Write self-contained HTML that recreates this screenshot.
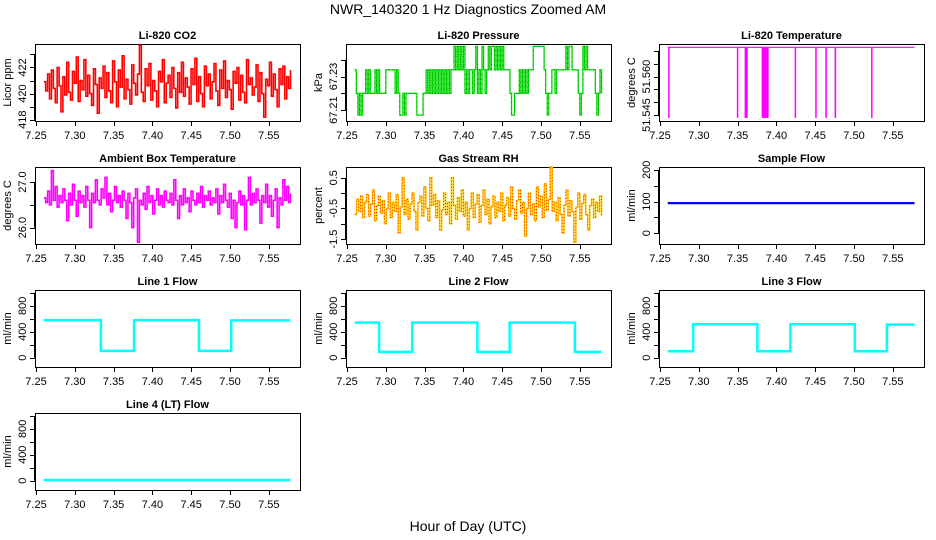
<!DOCTYPE html>
<html><head><meta charset="utf-8"><style>
html,body{margin:0;padding:0;background:#fff;}
svg{display:block;font-family:"Liberation Sans",sans-serif;}
</style></head><body>
<svg id="chart" width="936" height="540" viewBox="0 0 936 540">
<text x="468" y="14" text-anchor="middle" font-size="14">NWR_140320  1 Hz Diagnostics Zoomed AM</text>
<text x="468" y="531" text-anchor="middle" font-size="14">Hour of Day (UTC)</text>
</svg>
<script>
const xTicks=[7.25,7.30,7.35,7.40,7.45,7.50,7.55];
const xTickLabels=["7.25","7.30","7.35","7.40","7.45","7.50","7.55"];
const tStart=7.26, tEnd=7.578;
const co2=[420.9,420.2,421.5,419.6,421.8,420.4,419.3,422.0,420.6,418.6,421.3,419.9,422.4,420.1,419.5,421.7,420.8,422.8,419.4,421.0,420.3,422.6,419.8,421.4,420.0,419.1,421.9,420.7,418.5,421.2,420.4,422.1,419.7,421.6,420.2,419.3,422.5,420.9,419.0,421.8,420.5,422.9,419.6,421.1,420.3,419.2,422.2,420.8,419.9,421.5,423.7,420.1,419.4,421.9,420.6,422.3,419.5,421.0,420.2,419.0,421.7,420.9,422.6,419.3,420.8,421.4,419.7,422.0,420.4,418.9,421.6,420.1,422.4,419.8,421.2,420.5,419.2,421.9,420.7,422.7,419.4,421.3,420.0,419.0,422.1,420.6,421.5,419.6,420.9,422.3,420.2,419.1,421.8,420.4,422.5,419.7,421.0,420.3,418.8,421.7,420.8,422.0,419.5,421.4,420.1,419.3,422.6,420.7,421.2,419.9,420.5,422.2,419.4,421.6,420.0,418.2,421.1,420.6,422.4,419.8,421.5,420.3,419.0,421.9,420.7,422.1,419.6,421.3,420.4,421.8];
const pressure=[67.234,67.220,67.207,67.220,67.207,67.220,67.220,67.234,67.220,67.234,
67.220,67.220,67.220,67.234,67.220,67.234,67.220,67.220,67.220,67.220,
67.234,67.234,67.234,67.234,67.234,67.234,67.220,67.234,67.220,67.207,
67.207,67.220,67.207,67.220,67.220,67.220,67.220,67.220,67.220,67.220,
67.207,67.207,67.207,67.207,67.220,67.220,67.234,67.220,67.234,67.220,
67.234,67.220,67.234,67.220,67.234,67.220,67.234,67.220,67.234,67.220,
67.234,67.220,67.234,67.234,67.248,67.234,67.248,67.234,67.248,67.234,
67.248,67.220,67.234,67.220,67.234,67.234,67.220,67.234,67.248,67.220,
67.234,67.220,67.248,67.234,67.220,67.234,67.248,67.234,67.248,67.248,
67.234,67.248,67.234,67.248,67.234,67.248,67.234,67.234,67.234,67.234,
67.220,67.207,67.207,67.220,67.220,67.220,67.234,67.220,67.234,67.220,
67.234,67.220,67.234,67.234,67.234,67.248,67.248,67.248,67.248,67.248,
67.248,67.248,67.234,67.220,67.207,67.220,67.220,67.234,67.234,67.220,
67.234,67.234,67.234,67.234,67.234,67.234,67.248,67.234,67.248,67.248,
67.234,67.234,67.234,67.234,67.220,67.207,67.220,67.248,67.234,67.248,
67.234,67.234,67.234,67.234,67.234,67.220,67.207,67.220,67.234,67.220];
const tempBase=51.5714;
const tempSpikeStart=[7.2605,7.349,7.359,7.381,7.4235,7.450,7.463,7.475,7.522];
const tempSpikeEnd=[7.262,7.3505,7.363,7.390,7.425,7.4515,7.465,7.477,7.5235];
const tempSpikeMin=[51.5439,51.5439,51.5439,51.5439,51.5439,51.5439,51.5439,51.5439,51.5439];
const ambient=[26.65,26.55,26.8,26.5,27.25,26.6,26.9,26.45,26.7,26.55,26.85,26.6,26.15,26.75,26.5,26.95,26.6,26.25,26.8,26.55,26.7,26.45,26.9,26.6,26.0,26.75,26.55,27.05,26.6,26.5,26.85,26.65,27.1,26.5,26.75,26.35,26.6,26.9,26.55,26.7,26.45,26.8,26.6,26.2,26.75,26.55,26.0,26.65,26.85,25.68,26.6,26.5,26.75,26.4,26.9,26.55,26.7,26.3,26.6,26.85,26.5,26.7,26.45,26.8,26.6,26.55,26.75,26.5,27.05,26.6,26.2,26.7,26.5,26.85,26.55,26.65,26.35,26.8,26.6,26.5,26.75,26.55,26.9,26.45,26.7,26.6,26.8,26.5,26.65,26.55,26.85,26.3,26.7,26.55,26.95,26.6,26.45,26.75,26.2,26.6,26.0,26.55,26.8,26.5,26.7,25.95,26.6,27.1,26.5,26.75,26.55,26.85,26.6,26.1,26.7,26.55,26.95,26.45,26.7,26.25,26.6,26.85,26.0,26.65,26.5,27.05,26.6,26.9,26.55,26.75];
const rh=[-0.7,-0.2,-0.6,-0.1,-0.8,-0.3,-0.05,-0.75,-0.35,0.1,-0.9,-0.4,-0.1,-0.65,-0.25,-1.0,-0.5,0.0,-0.8,-0.3,-0.6,-0.05,-1.3,-0.45,0.5,-0.7,-0.2,-0.85,-0.35,0.0,-0.6,-1.2,-0.3,-0.1,-0.75,0.2,-0.5,-0.9,0.5,-0.4,-0.05,-0.8,-0.25,-1.2,-0.55,0.0,-0.7,-0.3,-1.0,0.5,-0.4,-0.85,-0.15,-0.6,0.1,-0.75,-0.3,-1.2,-0.5,0.0,-0.8,-0.35,-0.05,-0.95,-0.4,0.1,-0.7,-0.2,-1.0,-0.45,-0.1,-0.8,-0.3,-0.6,0.0,-0.9,-0.4,-0.15,-0.75,0.2,-0.5,-0.85,-0.25,0.1,-0.65,-0.3,-1.4,-0.5,0.0,-0.7,-0.35,-0.9,0.2,-0.45,-0.1,-0.8,0.3,-0.55,-0.2,0.85,-0.6,-0.3,-0.9,-0.15,-0.7,-1.3,-0.4,0.1,-0.75,-0.25,-0.6,-1.6,-0.45,0.0,-0.85,-0.35,-0.05,-0.7,-1.2,-0.4,-0.2,-0.8,-0.3,-0.6,-0.1,-0.75];
const sampleFlowLevel=[95,95];
const line1Times=[7.26,7.3336,7.3764,7.46,7.5016,7.578];
const line1Levels=[580,105,580,105,575];
const line2Times=[7.26,7.2914,7.334,7.418,7.4596,7.5437,7.578];
const line2Levels=[540,90,540,90,540,90];
const line3Times=[7.26,7.2927,7.3755,7.418,7.501,7.5424,7.578];
const line3Levels=[100,515,100,515,100,510];
const line4Level=[10,10];

const NS="http://www.w3.org/2000/svg";
const svg=document.getElementById('chart');
const colL=[35,346,659], rowT=[44,167,290,413], W=265, H=77;
const XMIN=7.2487, XMAX=7.5902;
function mk(tag,attrs,parent){const e=document.createElementNS(NS,tag);for(const k in attrs)e.setAttribute(k,attrs[k]);(parent||svg).appendChild(e);return e;}
function panel(c,r,title,ylab,dom,ticks,labels,name){
  const L=colL[c],T=rowT[r];
  const g=mk('g',{});
  
  
  const sx=t=>L+(t-XMIN)/(XMAX-XMIN)*W;
  const sy=v=>T+H-(v-dom[0])/(dom[1]-dom[0])*H;
  const tt=mk('text',{x:L+W/2,y:T-5,'text-anchor':'middle','font-size':11,'font-weight':'bold'},g);tt.textContent=title;
  
  
  const ax=mk('g',{stroke:'#000','stroke-width':1},g);
  
  
  mk('line',{x1:sx(xTicks[0]),x2:sx(xTicks[xTicks.length-1]),y1:T+H+0.5,y2:T+H+0.5},ax);
  xTicks.forEach((t,i)=>{mk('line',{x1:Math.round(sx(t))+0.5,x2:Math.round(sx(t))+0.5,y1:T+H,y2:T+H+5},ax);
    const l=mk('text',{x:sx(t),y:T+H+18,'text-anchor':'middle','font-size':11,stroke:'none'},ax);l.textContent=xTickLabels[i];});
  const ay=mk('g',{stroke:'#000','stroke-width':1},g);
  
  
  mk('line',{x1:L-0.5,x2:L-0.5,y1:sy(ticks[0]),y2:sy(ticks[ticks.length-1])},ay);
  ticks.forEach((v,i)=>{const y=Math.round(sy(v))+0.5;mk('line',{x1:L-5,x2:L,y1:y,y2:y},ay);
    if(labels[i]){const l=mk('text',{x:L-9,y:sy(v),'text-anchor':'middle','font-size':11,stroke:'none',transform:`rotate(-90 ${L-9} ${sy(v)})`},ay);l.textContent=labels[i];}});
  const yl=mk('text',{x:L-24,y:T+H/2,'text-anchor':'middle','font-size':11,transform:`rotate(-90 ${L-24} ${T+H/2})`},g);yl.textContent=ylab;
  
  
  const box=mk('rect',{x:L+0.5,y:T+0.5,width:W,height:H,fill:'none',stroke:'#000'},g);
  
  
  return {g,sx,sy};
}
function idxT(i,n){return tStart+(tEnd-tStart)*i/(n-1);}
function seriesPath(p,arr){return arr.map((v,i)=>(i?'L':'M')+p.sx(idxT(i,arr.length)).toFixed(2)+' '+p.sy(v).toFixed(2)).join(' ');}
function denseStep(p,arr){let d='';arr.forEach((v,i)=>{const x=p.sx(idxT(i,arr.length)),x2=p.sx(idxT(Math.min(i+1,arr.length-1),arr.length));d+=(i?'L':'M')+x.toFixed(2)+' '+p.sy(v).toFixed(2)+' L'+x2.toFixed(2)+' '+p.sy(v).toFixed(2)+' ';});return d;}
function stepPath(p,times,levels){let d='';levels.forEach((v,i)=>{d+=(i?'L':'M')+p.sx(times[i]).toFixed(2)+' '+p.sy(v).toFixed(2)+' L'+p.sx(times[i+1]).toFixed(2)+' '+p.sy(v).toFixed(2)+' ';});return d;}

// CO2
let p=panel(0,0,'Li-820 CO2','Licor ppm',[417.9,423.8],[418,419,420,421,422,423],['418','','420','','422',''],'co2');
let e=mk('path',{d:denseStep(p,co2),fill:'none',stroke:'#ff0000','stroke-width':1.6},p.g);


// Pressure
p=panel(1,0,'Li-820 Pressure','kPa',[67.2035,67.2494],[67.21,67.22,67.23,67.24],['67.21','','67.23',''],'pressure');
{const d=denseStep(p,pressure);
e=mk('path',{d:d,fill:'none',stroke:'#00dd00','stroke-width':1.3},p.g);


e=mk('path',{d:d,fill:'none',stroke:'#000','stroke-width':0.7,'stroke-dasharray':'1 4',opacity:0.5},p.g);

}
// Temperature
p=panel(2,0,'Li-820 Temperature','degrees C',[51.5427,51.5727],[51.545,51.55,51.555,51.56,51.565,51.57],['51.545','','','51.560','',''],'temperature');
{let d='M'+p.sx(tStart)+' '+p.sy(tempBase)+' L'+p.sx(tEnd)+' '+p.sy(tempBase);
e=mk('path',{d:d,fill:'none',stroke:'#ff00ff','stroke-width':1.2},p.g);


tempSpikeStart.forEach((t,i)=>{const x=p.sx(t),w=Math.max(1.5,p.sx(tempSpikeEnd[i])-x);
 const r=mk('rect',{x:x,y:p.sy(tempBase),width:w,height:p.sy(tempSpikeMin[i])-p.sy(tempBase),fill:'#ff00ff'},p.g);
 
 });}
// Ambient
p=panel(0,1,'Ambient Box Temperature','degrees C',[25.64,27.33],[26.0,26.5,27.0],['26.0','','27.0'],'ambient');
e=mk('path',{d:denseStep(p,ambient),fill:'none',stroke:'#ff00ff','stroke-width':1.6},p.g);


// RH
p=panel(1,1,'Gas Stream RH','percent',[-1.66,0.85],[-1.5,-1,-0.5,0,0.5],['-1.5','','-0.5','','0.5'],'rh');
e=mk('path',{d:denseStep(p,rh),fill:'none',stroke:'#ffd000','stroke-width':1.6},p.g);


e=mk('path',{d:denseStep(p,rh),fill:'none',stroke:'#ff2000','stroke-width':1,'stroke-dasharray':'1 2'},p.g);


// Sample flow
p=panel(2,1,'Sample Flow','ml/min',[-34,209],[0,50,100,150,200],['0','','100','','200'],'sample-flow');
e=mk('path',{d:'M'+p.sx(tStart)+' '+p.sy(sampleFlowLevel[0])+' L'+p.sx(tEnd)+' '+p.sy(sampleFlowLevel[1]),stroke:'#0000ff','stroke-width':2.2},p.g);


// Lines
const fT=[0,200,400,600,800,1000], fL=['0','','400','','800',''];
[[0,2,'Line 1 Flow',line1Times,line1Levels,'line1'],[1,2,'Line 2 Flow',line2Times,line2Levels,'line2'],[2,2,'Line 3 Flow',line3Times,line3Levels,'line3']].forEach(a=>{
 const q=panel(a[0],a[1],a[2],'ml/min',[-144,1044],fT,fL,a[5]+'-flow');
 const s=mk('path',{d:stepPath(q,a[3],a[4]),fill:'none',stroke:'#00ffff','stroke-width':2.5},q.g);
 
 
});
p=panel(0,3,'Line 4 (LT) Flow','ml/min',[-144,1044],fT,fL,'line4-flow');
e=mk('path',{d:'M'+p.sx(tStart)+' '+p.sy(line4Level[0])+' L'+p.sx(tEnd)+' '+p.sy(line4Level[1]),stroke:'#00ffff','stroke-width':2.5},p.g);


</script>
</body></html>
